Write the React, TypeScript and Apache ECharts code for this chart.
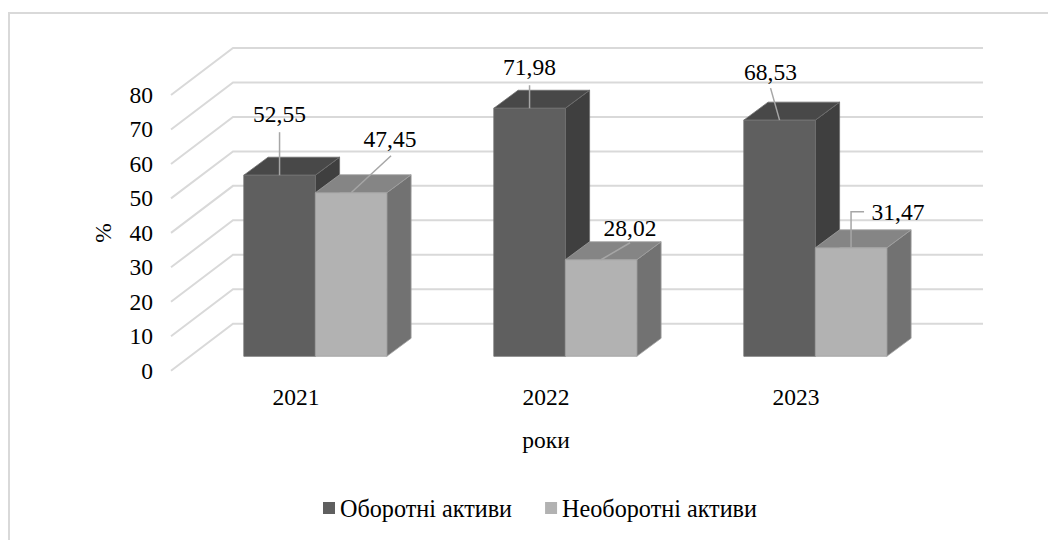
import React, { useEffect, useRef } from "react";
import * as echarts from "echarts";

const categories = ["2021", "2022", "2023"];
const seriesNames = ["Оборотні активи", "Необоротні активи"];
const currentAssets = [52.55, 71.98, 68.53];
const nonCurrentAssets = [47.45, 28.02, 31.47];
const gridTicks = [0, 10, 20, 30, 40, 50, 60, 70, 80];

const FONT = '"Liberation Serif", "Times New Roman", serif';
const FS = 23.5;
const BAR_W = 71.5;
const PLANE = { dx: 19.3, dy: -14.4 };
const DEPTH = { dx: 24.3, dy: -18 };
const BACK = { dx: 62, dy: -47, right: 983 };
const PALETTES = [
  { front: "#5f5f5f", top: "#484848", side: "#3f3f3f", edge: "#6e6e6e" },
  { front: "#b2b2b2", top: "#858585", side: "#727272", edge: "#a0a0a0" },
];
// leader geometry relative to the front-top centre of each bar; label centre
const LEADERS = [
  [
    { pts: [[0, 0], [0, -43]], label: [0, -61] },
    { pts: [[0, 0], [40, -37]], label: [39, -54] },
  ],
  [
    { pts: [[0, 0], [0, -23]], label: [0, -41] },
    { pts: [[0, 0], [29, -17]], label: [29, -32] },
  ],
  [
    { pts: [[0, 0], [-9, -32]], label: [-9, -48] },
    { pts: [[0, 0], [0, -36], [13, -36]], label: [47, -36] },
  ],
];

const fmt = (v: number) => v.toFixed(2).replace(".", ",");

function barSeries(name: string, values: number[], idx: number) {
  const c = PALETTES[idx];
  return {
    type: "custom",
    name,
    clip: false,
    z: 3 + idx,
    itemStyle: { color: c.front },
    encode: { x: 0, y: 1 },
    data: values.map((v, i) => [i, v]),
    renderItem: (_: any, api: any) => {
      const cat = api.value(0);
      const val = api.value(1);
      const t = api.coord([cat, val]);
      const b = api.coord([cat, 0]);
      const x0 = t[0] + PLANE.dx - BAR_W + idx * BAR_W;
      const x1 = x0 + BAR_W;
      const yT = t[1] + PLANE.dy;
      const yB = b[1] + PLANE.dy;
      const d = DEPTH;
      const face = (points: number[][], fill: string) => ({
        type: "polygon",
        shape: { points },
        style: { fill, stroke: c.edge, lineWidth: 0.8 },
      });
      return {
        type: "group",
        children: [
          face([[x1, yB], [x1 + d.dx, yB + d.dy], [x1 + d.dx, yT + d.dy], [x1, yT]], c.side),
          face([[x0, yT], [x1, yT], [x1 + d.dx, yT + d.dy], [x0 + d.dx, yT + d.dy]], c.top),
          face([[x0, yT], [x1, yT], [x1, yB], [x0, yB]], c.front),
        ],
      };
    },
  };
}

function labelSeries(values: number[], idx: number) {
  return {
    type: "custom",
    clip: false,
    silent: true,
    z: 10,
    encode: { x: 0, y: 1 },
    data: values.map((v, i) => [i, v]),
    renderItem: (_: any, api: any) => {
      const cat = api.value(0);
      const val = api.value(1);
      const t = api.coord([cat, val]);
      const cx = t[0] + PLANE.dx - BAR_W + idx * BAR_W + BAR_W / 2;
      const cy = t[1] + PLANE.dy;
      const l = LEADERS[cat][idx];
      return {
        type: "group",
        children: [
          {
            type: "polyline",
            shape: { points: l.pts.map((p) => [cx + p[0], cy + p[1]]) },
            style: { fill: "none", stroke: "#a6a6a6", lineWidth: 1.5 },
          },
          {
            type: "text",
            x: cx + l.label[0],
            y: cy + l.label[1],
            style: {
              text: fmt(val),
              font: `${FS}px ${FONT}`,
              fill: "#000",
              align: "center",
              verticalAlign: "middle",
            },
          },
        ],
      };
    },
  };
}

const gridSeries = {
  type: "custom",
  clip: false,
  silent: true,
  z: 1,
  encode: { y: 0 },
  data: gridTicks.map((v) => [v]),
  renderItem: (params: any, api: any) => {
    const v = api.value(0);
    const p = api.coord([0, v]);
    const x0 = params.coordSys.x;
    return {
      type: "polyline",
      shape: {
        points: [
          [x0, p[1]],
          [x0 + BACK.dx, p[1] + BACK.dy],
          [BACK.right, p[1] + BACK.dy],
        ],
      },
      style: { fill: "none", stroke: "#d9d9d9", lineWidth: 2 },
    };
  },
};

export default function App() {
  const ref = useRef<HTMLDivElement>(null);
  useEffect(() => {
    const chart = echarts.init(ref.current!, undefined, { renderer: "svg" });
    chart.setOption({
      animation: false,
      backgroundColor: "#fff",
      textStyle: { fontFamily: FONT },
      graphic: [
        {
          type: "rect",
          z: -1,
          shape: { x: 9, y: 13, width: 1100, height: 600 },
          style: { fill: "none", stroke: "#d9d9d9", lineWidth: 2 },
        },
      ],
      grid: { left: 171, right: 127, top: 95, height: 275.7 },
      xAxis: {
        type: "category",
        data: categories,
        axisLine: { show: false },
        axisTick: { show: false },
        name: "роки",
        nameLocation: "middle",
        nameGap: 57,
        nameTextStyle: { fontFamily: FONT, fontSize: FS, color: "#000" },
        axisLabel: { fontFamily: FONT, fontSize: FS, color: "#000", margin: 14 },
      },
      yAxis: {
        type: "value",
        min: 0,
        max: 80,
        interval: 10,
        axisLine: { show: false },
        axisTick: { show: false },
        splitLine: { show: false },
        name: "%",
        nameLocation: "middle",
        nameGap: 56,
        nameRotate: 90,
        nameTextStyle: { fontFamily: FONT, fontSize: FS, color: "#000" },
        axisLabel: { fontFamily: FONT, fontSize: FS, color: "#000", margin: 18 },
      },
      legend: {
        show: true,
        data: seriesNames,
        left: 318,
        top: 491,
        icon: "rect",
        itemWidth: 12,
        itemHeight: 12,
        itemGap: 33,
        selectedMode: false,
        textStyle: { fontFamily: FONT, fontSize: 24.2, color: "#000" },
      },
      series: [
        gridSeries,
        barSeries(seriesNames[0], currentAssets, 0),
        barSeries(seriesNames[1], nonCurrentAssets, 1),
        labelSeries(currentAssets, 0),
        labelSeries(nonCurrentAssets, 1),
      ],
    });
    return () => chart.dispose();
  }, []);
  return <div ref={ref} style={{ position: "fixed", left: 0, top: 0, width: 1048, height: 540 }} />;
}
